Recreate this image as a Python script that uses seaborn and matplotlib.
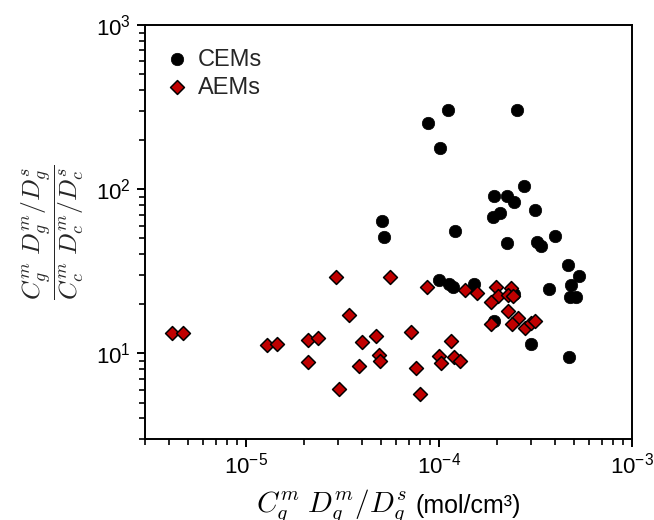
import numpy as np
import pandas as pd
import matplotlib
matplotlib.use("Agg")
import matplotlib.pyplot as plt
import seaborn as sns
from matplotlib.ticker import LogLocator, NullFormatter, FuncFormatter
from matplotlib.offsetbox import TextArea, HPacker, AnchoredOffsetbox

# Cation-exchange membranes
cem_x = [1.12e-4, 8.79e-5, 2.54e-4, 1.01e-4, 2.75e-4, 1.92e-4, 2.25e-4, 2.46e-4,
         3.16e-4, 2.08e-4, 1.90e-4, 5.07e-5, 5.22e-5, 1.21e-4, 2.26e-4, 3.97e-4,
         3.23e-4, 3.36e-4, 4.66e-4, 5.32e-4, 4.81e-4, 3.70e-4, 4.75e-4, 5.15e-4,
         1.006e-4, 1.13e-4, 1.18e-4, 1.52e-4, 2.44e-4, 1.92e-4, 3.00e-4, 4.69e-4]
cem_y = [304, 254, 304, 178, 104, 91, 91, 83,
         75.1, 71.6, 67.7, 63.7, 51.1, 55.9, 46.9, 52.1,
         47.6, 45.0, 34.5, 29.7, 25.9, 24.5, 21.9, 21.9,
         27.8, 26.5, 25.3, 26.5, 23.1, 15.8, 11.3, 9.43]

# Anion-exchange membranes
aem_x = [4.16e-6, 4.73e-6, 1.29e-5, 1.44e-5, 2.10e-5, 2.37e-5, 2.10e-5, 2.92e-5,
         3.41e-5, 4.00e-5, 4.71e-5, 4.87e-5, 4.96e-5, 3.87e-5, 3.03e-5, 5.56e-5,
         7.17e-5, 7.61e-5, 7.95e-5, 8.67e-5, 1.157e-4, 1.006e-4, 1.19e-4, 1.28e-4,
         1.02e-4, 1.36e-4, 1.57e-4, 1.98e-4, 2.01e-4, 1.87e-4, 2.36e-4, 2.27e-4,
         2.41e-4, 2.29e-4, 2.56e-4, 2.38e-4, 1.85e-4, 2.79e-4, 2.99e-4, 3.16e-4]
aem_y = [13.3, 13.35, 11.2, 11.4, 12.0, 12.4, 8.78, 29.1,
         17.2, 11.7, 12.8, 9.75, 9.0, 8.39, 6.07, 29.1,
         13.4, 8.07, 5.63, 25.3, 11.8, 9.65, 9.52, 8.91,
         8.71, 24.4, 23.4, 25.3, 22.3, 20.65, 24.9, 22.7,
         22.2, 18.2, 16.4, 15.1, 15.1, 14.3, 15.3, 15.8]

cem = pd.DataFrame({"x": cem_x, "y": cem_y})
aem = pd.DataFrame({"x": aem_x, "y": aem_y})

sns.set_theme(style="ticks")
plt.rcParams["font.family"] = ["Liberation Sans", "DejaVu Sans"]
plt.rcParams["mathtext.fontset"] = "cm"

fig = plt.figure(figsize=(6.54, 5.2), dpi=100)
ax = fig.add_axes([0.2217, 0.1558, 0.7447, 0.7961])

sns.scatterplot(data=cem, x="x", y="y", ax=ax, marker="o", s=80,
                color="black", edgecolor="black", linewidth=0.5,
                label="CEMs", zorder=3)
sns.scatterplot(data=aem, x="x", y="y", ax=ax, marker="D", s=50,
                color="#c00000", edgecolor="black", linewidth=1.1,
                label="AEMs", zorder=4)

ax.set_xscale("log")
ax.set_yscale("log")
ax.set_xlim(3e-6, 1e-3)
ax.set_ylim(3, 1e3)

# Decade labels in the regular sans-serif font
decade_fmt = FuncFormatter(lambda v, _: r"$\mathregular{10^{%d}}$" % round(np.log10(v)))
ax.xaxis.set_major_locator(LogLocator(base=10, numticks=10))
ax.yaxis.set_major_locator(LogLocator(base=10, numticks=10))
ax.xaxis.set_major_formatter(decade_fmt)
ax.yaxis.set_major_formatter(decade_fmt)
ax.xaxis.set_minor_locator(LogLocator(base=10, subs=np.arange(2, 10), numticks=20))
ax.yaxis.set_minor_locator(LogLocator(base=10, subs=np.arange(2, 10), numticks=20))
ax.xaxis.set_minor_formatter(NullFormatter())
ax.yaxis.set_minor_formatter(NullFormatter())

for s in ax.spines.values():
    s.set_linewidth(1.4)
    s.set_color("black")
ax.tick_params(which="major", direction="out", length=6, width=1.4,
               labelsize=16, colors="black", pad=4)
ax.tick_params(which="minor", direction="out", length=4, width=1.2,
               colors="black")
ax.tick_params(top=False, right=False, which="both")

# x-axis title: math expression followed by the unit, on a shared baseline
xl_math = TextArea(r"$C_g^m\;D_g^m/D_g^s$",
                   textprops=dict(fontsize=21, color="black"))
xl_unit = TextArea("(mol/cm³)", textprops=dict(fontsize=18, color="black"))
xl_box = HPacker(children=[xl_math, xl_unit], align="baseline", pad=0, sep=6)
xl_anchor = AnchoredOffsetbox(loc="upper center", child=xl_box, frameon=False,
                              bbox_to_anchor=(0.5, -0.118),
                              bbox_transform=ax.transAxes, borderpad=0, pad=0)
ax.add_artist(xl_anchor)
ax.set_xlabel("")

ax.set_ylabel(r"$\dfrac{C_g^m\;D_g^m/D_g^s}{C_c^m\;D_c^m/D_c^s}$",
              fontsize=18.5, labelpad=7)

leg = ax.legend(loc="upper left", frameon=False, fontsize=17,
                handletextpad=0.3, borderaxespad=0, labelspacing=0.25,
                handlelength=1.2, borderpad=0,
                bbox_to_anchor=(0.036, 0.943))

fig.savefig("out.png", dpi=100)
